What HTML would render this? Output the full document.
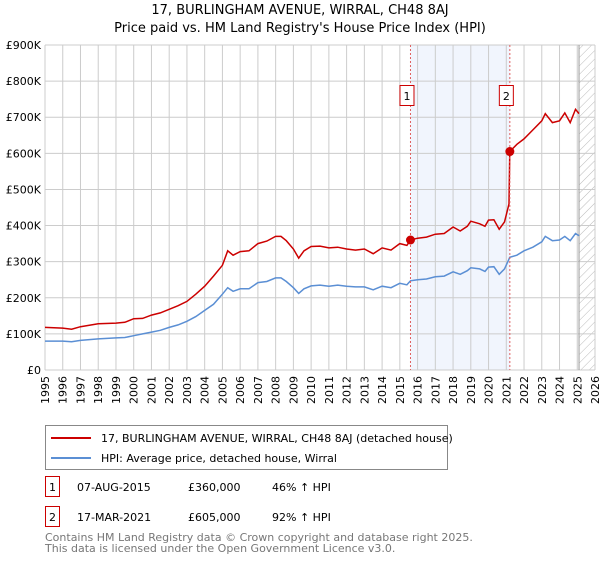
<!DOCTYPE html>
<html><head><meta charset="utf-8"><style>
body{margin:0;background:#fff;}
svg text{font-family:"DejaVu Sans","Liberation Sans",sans-serif;}
</style></head><body>
<svg id="chart" width="600" height="560" viewBox="0 0 600 560" xmlns="http://www.w3.org/2000/svg">
<defs><pattern id="hatch" width="6" height="6" patternUnits="userSpaceOnUse" patternTransform="rotate(45)"><line x1="0" y1="0" x2="0" y2="6" stroke="#bbb" stroke-width="1"/></pattern></defs>
<text x="300" y="14" text-anchor="middle" font-size="13">17, BURLINGHAM AVENUE, WIRRAL, CH48 8AJ</text>
<text x="300" y="32" text-anchor="middle" font-size="13">Price paid vs. HM Land Registry's House Price Index (HPI)</text>
<g id="plot"></g>
<g>
<rect x="45.5" y="425.5" width="402" height="44" fill="#fff" stroke="#888"/>
<line x1="51" y1="438" x2="91" y2="438" stroke="#cc0000" stroke-width="2"/>
<text x="101" y="442" font-size="11">17, BURLINGHAM AVENUE, WIRRAL, CH48 8AJ (detached house)</text>
<line x1="51" y1="458" x2="91" y2="458" stroke="#5b8fd4" stroke-width="2"/>
<text x="101" y="462" font-size="11">HPI: Average price, detached house, Wirral</text>
</g>
<g font-size="11">
<rect x="45.5" y="476.5" width="14" height="20" fill="#fff" stroke="#cc0000"/>
<text x="52.5" y="491" text-anchor="middle">1</text>
<text x="77" y="491">07-AUG-2015</text><text x="188" y="491">£360,000</text><text x="272" y="491">46% ↑ HPI</text>
<rect x="45.5" y="506.5" width="14" height="20" fill="#fff" stroke="#cc0000"/>
<text x="52.5" y="521" text-anchor="middle">2</text>
<text x="77" y="521">17-MAR-2021</text><text x="188" y="521">£605,000</text><text x="272" y="521">92% ↑ HPI</text>
</g>
<text x="45" y="541" font-size="11" fill="#777">Contains HM Land Registry data © Crown copyright and database right 2025.</text>
<text x="45" y="552" font-size="11" fill="#777">This data is licensed under the Open Government Licence v3.0.</text>
</svg>
<script>
const hpiYears=[1995,1996,1996.5,1997,1998,1999,1999.5,2000,2000.5,2001,2001.5,2002,2002.5,2003,2003.5,2004,2004.5,2005,2005.3,2005.6,2006,2006.5,2007,2007.5,2008,2008.3,2008.6,2009,2009.3,2009.6,2010,2010.5,2011,2011.5,2012,2012.5,2013,2013.5,2014,2014.5,2015,2015.4,2015.6,2016,2016.5,2017,2017.5,2018,2018.4,2018.8,2019,2019.5,2019.8,2020,2020.3,2020.6,2020.9,2021.2,2021.6,2022,2022.5,2023,2023.2,2023.6,2024,2024.3,2024.6,2024.9,2025.1];
const hpiValues=[80,80,78,82,86,89,90,95,100,105,110,118,125,135,148,165,182,210,228,218,225,225,242,245,255,255,245,228,212,225,233,235,232,235,232,230,230,222,232,228,240,236,247,250,252,258,260,272,265,275,283,280,273,285,286,265,280,312,318,330,340,355,370,358,360,370,358,378,372];
const redYears=[1995,1996,1996.5,1997,1998,1999,1999.5,2000,2000.5,2001,2001.5,2002,2002.5,2003,2003.5,2004,2004.5,2005,2005.3,2005.6,2006,2006.5,2007,2007.5,2008,2008.3,2008.6,2009,2009.3,2009.6,2010,2010.5,2011,2011.5,2012,2012.5,2013,2013.5,2014,2014.5,2015,2015.4,2015.6,2016,2016.5,2017,2017.5,2018,2018.4,2018.8,2019,2019.5,2019.8,2020,2020.3,2020.6,2020.9,2021.15,2021.2,2021.6,2022,2022.5,2023,2023.2,2023.6,2024,2024.3,2024.6,2024.9,2025.1];
const redValues=[118,116,113,120,128,130,132,142,143,152,158,168,178,190,210,232,260,290,330,318,328,330,350,357,370,370,358,335,310,330,342,343,338,340,335,332,335,322,338,332,350,345,360,365,368,376,378,396,385,398,412,405,398,415,416,390,410,460,605,625,640,665,690,710,685,690,712,685,722,710];
const saleYears=[2015.6,2021.2];
const saleValues=[360,605];
const saleLabels=["1","2"];
const yTicks=[0,100,200,300,400,500,600,700,800,900];
const yTickLabels=["£0","£100K","£200K","£300K","£400K","£500K","£600K","£700K","£800K","£900K"];
const xTicks=[1995,1996,1997,1998,1999,2000,2001,2002,2003,2004,2005,2006,2007,2008,2009,2010,2011,2012,2013,2014,2015,2016,2017,2018,2019,2020,2021,2022,2023,2024,2025,2026];
const dataEnd=2025.1;

const X0=45,X1=595,Y0=370,Y1=45;
const sx=y=>X0+(y-1995)/(2026-1995)*(X1-X0);
const sy=v=>Y0-v/900*(Y0-Y1);
const NS="http://www.w3.org/2000/svg";
const g=document.getElementById('plot');
function mk(t,a,p){const e=document.createElementNS(NS,t);for(const k in a)e.setAttribute(k,a[k]);(p||g).appendChild(e);return e;}

let e=mk('rect',{x:sx(saleYears[0]),y:Y1,width:sx(saleYears[1])-sx(saleYears[0]),height:Y0-Y1,fill:'#eef3fc',opacity:0.8});


e=mk('rect',{x:sx(dataEnd),y:Y1,width:X1-sx(dataEnd),height:Y0-Y1,fill:'url(#hatch)'});



yTicks.forEach((v,i)=>{
  e=mk('line',{x1:X0,x2:X1,y1:sy(v),y2:sy(v),stroke:'#ccc','stroke-width':1});
  
  
  e=mk('text',{x:X0-4,y:sy(v)+4,'text-anchor':'end','font-size':11});
  e.textContent=yTickLabels[i];
  
  
});
xTicks.forEach(y=>{
  e=mk('line',{x1:sx(y),x2:sx(y),y1:Y1,y2:Y0,stroke:'#ccc','stroke-width':1});
  
  
  e=mk('text',{x:0,y:0,'text-anchor':'end','font-size':11,transform:`translate(${sx(y)+4},${Y0+6}) rotate(-90)`});
  e.textContent=y;
  
  
});
e=mk('line',{x1:sx(dataEnd),x2:sx(dataEnd),y1:Y1,y2:Y0,stroke:'#999','stroke-width':1});



function path(xs,vs){return xs.map((x,i)=>(i?'L':'M')+sx(x).toFixed(1)+','+sy(vs[i]).toFixed(1)).join('');}
e=mk('path',{d:path(hpiYears,hpiValues),fill:'none',stroke:'#5b8fd4','stroke-width':1.5});


e=mk('path',{d:path(redYears,redValues),fill:'none',stroke:'#cc0000','stroke-width':1.5});



saleYears.forEach((y,i)=>{
  e=mk('line',{x1:sx(y),x2:sx(y),y1:Y1,y2:Y0,stroke:'#e06060','stroke-width':1,'stroke-dasharray':'2,2'});
  
  
  e=mk('circle',{cx:sx(y),cy:sy(saleValues[i]),r:4.5,fill:'#cc0000'});
  
  
  e=mk('rect',{x:sx(y)-10.5,y:85.5,width:14,height:20,fill:'#fff',stroke:'#cc0000'});
  
  
  e=mk('text',{x:sx(y)-3.5,y:100,'text-anchor':'middle','font-size':11});
  e.textContent=saleLabels[i];
  
  
});
</script>
</body></html>
